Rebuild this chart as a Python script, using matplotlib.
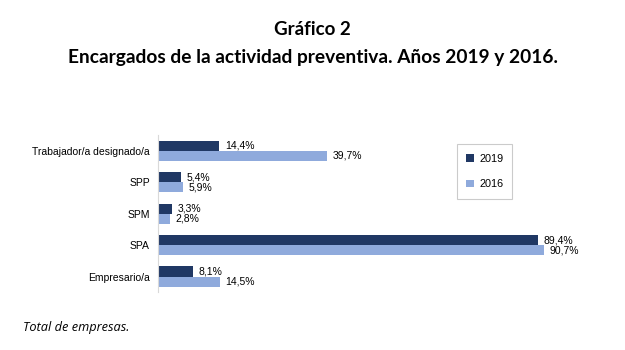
import matplotlib.pyplot as plt
import numpy as np

# Data
categories = ["Trabajador/a designado/a", "SPP", "SPM", "SPA", "Empresario/a"]
values_2019 = [14.4, 5.4, 3.3, 89.4, 8.1]
values_2016 = [39.7, 5.9, 2.8, 90.7, 14.5]
series_names = ["2019", "2016"]

dark = "#203864"
light = "#8faadc"

fig = plt.figure(figsize=(6.25, 3.5), dpi=100)
ax = fig.add_axes([0.253, 0.165, 0.68, 0.449])

y = np.arange(len(categories))
h = 0.32
b1 = ax.barh(y - h / 2, values_2019, height=h, color=dark, label=series_names[0])
b2 = ax.barh(y + h / 2, values_2016, height=h, color=light, label=series_names[1])

for bars in (b1, b2):
    for bar in bars:
        v = bar.get_width()
        ax.annotate(f"{v:.1f}%".replace(".", ","),
                    (v, bar.get_y() + bar.get_height() / 2),
                    xytext=(4, 0), textcoords="offset points",
                    va="center", ha="left", fontsize=7.5,
                    family="Liberation Sans")

ax.set_yticks(y)
ax.set_yticklabels(categories, fontsize=7.5, family="Liberation Sans")
ax.set_ylim(len(categories) - 0.5, -0.5)
ax.set_xlim(0, 100)
ax.set_xticks([])
ax.tick_params(axis="y", length=0, pad=6)
for s in ["top", "right", "bottom"]:
    ax.spines[s].set_visible(False)
ax.spines["left"].set_color("#d9d9d9")

leg = ax.legend(loc="upper left", bbox_to_anchor=(0.69, 0.975), frameon=True,
                fancybox=False, edgecolor="#bfbfbf", handlelength=0.7,
                handleheight=0.7, labelspacing=1.45, borderpad=0.85,
                handletextpad=0.5,
                prop={"family": "Liberation Sans", "size": 7.8})
leg.get_frame().set_linewidth(0.8)

fig.text(0.5, 0.915, "Gráfico 2", ha="center", va="center",
         fontsize=13.5, fontweight="bold", family="Lato")
fig.text(0.5, 0.835, "Encargados de la actividad preventiva. Años 2019 y 2016.",
         ha="center", va="center", fontsize=13.8, fontweight="bold", family="Lato")
fig.text(0.037, 0.063, "Total de empresas.", ha="left", va="center",
         fontsize=9.2, style="italic", family="Open Sans")

fig.savefig("out.png", dpi=100)
